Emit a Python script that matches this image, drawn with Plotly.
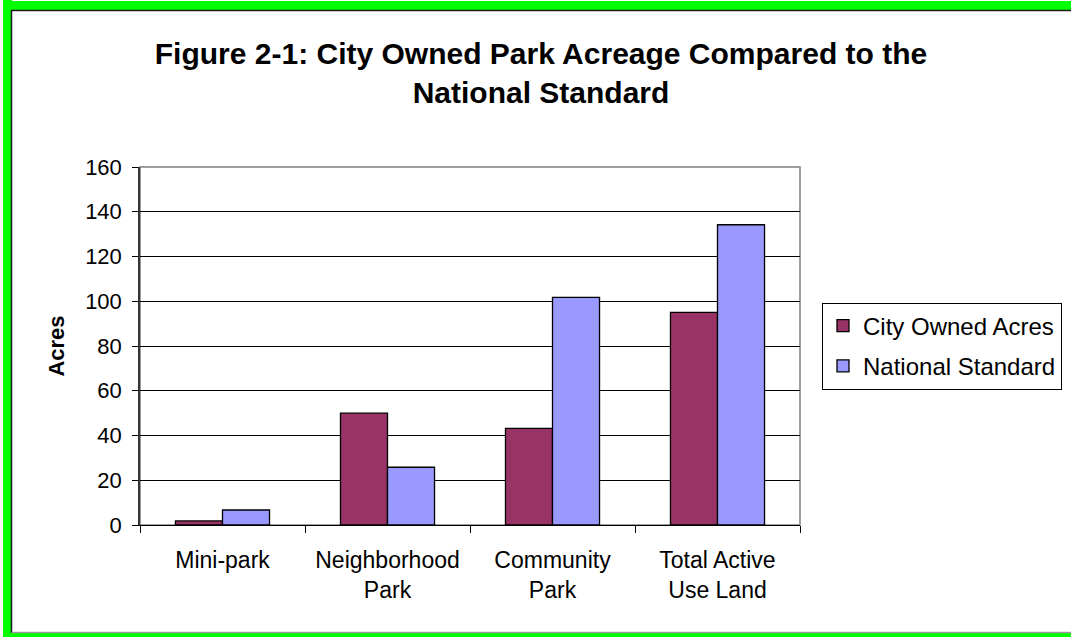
import plotly.graph_objects as go

categories = ["Mini-park", "Neighborhood<br>Park", "Community<br>Park", "Total Active<br>Use Land"]
city_owned = [1.8, 50, 43.2, 95]
national_standard = [6.7, 25.8, 101.7, 134.2]
y_ticks = [0, 20, 40, 60, 80, 100, 120, 140, 160]

W, H = 1071, 637
L, R, T, B = 140, 800, 167, 525

def px_x(p):
    return (p - L) / (R - L)

def px_y(p):
    return (B - p) / (B - T)

FONT = "Arial, Liberation Sans, sans-serif"

fig = go.Figure()
fig.add_trace(go.Bar(x=categories, y=city_owned, name="City Owned Acres",
                     marker=dict(color="#993366", line=dict(color="black", width=1.3)),
                     legendgroup="a"))
fig.add_trace(go.Bar(x=categories, y=national_standard, name="National Standard",
                     marker=dict(color="#9999FF", line=dict(color="black", width=1.3)),
                     legendgroup="b"))

def pline(x0, x1, y0, y1, color, w):
    return dict(type="line", xref="paper", yref="paper", layer="below",
                x0=px_x(x0), x1=px_x(x1), y0=px_y(y0), y1=px_y(y1),
                line=dict(color=color, width=w))

shapes = [
    pline(7.5, 7.5, 0, 637, "#00FF00", 9),
    pline(3, 1080, 5.5, 5.5, "#00FF00", 9),
    pline(3, 1080, 635.5, 635.5, "#00FF00", 5),
    pline(11.5, 11.5, 10, 633, "#1a1a1a", 1.5),
    pline(11.5, 1080, 10.5, 10.5, "#1a1a1a", 1.5),
    pline(11.5, 1080, 632.5, 632.5, "#9a9a9a", 1.5),
    dict(type="rect", xref="paper", yref="paper", layer="below",
         x0=0, x1=1, y0=0, y1=1,
         fillcolor="white", line=dict(color="#808080", width=1.5)),
]

fig.update_layout(
    width=W, height=H,
    margin=dict(l=L, r=W - R, t=T, b=H - B, autoexpand=False),
    paper_bgcolor="white", plot_bgcolor="rgba(0,0,0,0)",
    font=dict(family=FONT, size=22, color="black"),
    title=dict(text="<b>Figure 2-1: City Owned Park Acreage Compared to the<br>National Standard</b>",
               x=541 / W, xanchor="center", xref="container",
               y=1 - 64 / H, yanchor="top", yref="container",
               font=dict(family=FONT, size=30, color="black")),
    barmode="group", bargap=0.43, bargroupgap=0,
    showlegend=True,
    legend=dict(x=px_x(822), xanchor="left", y=0.5, yanchor="middle",
                bordercolor="black", borderwidth=1, bgcolor="white",
                font=dict(family=FONT, size=24, color="black"),
                traceorder="grouped", tracegroupgap=6),
    shapes=shapes,
    xaxis=dict(showline=True, linecolor="black", linewidth=1.3,
               ticks="outside", tickson="boundaries", ticklen=7, tickcolor="black",
               showgrid=False, tickfont=dict(size=23), automargin=False,
               ticklabelstandoff=14),
    yaxis=dict(range=[0, 160], tickvals=y_ticks, showline=True, linecolor="#333333", linewidth=1.5,
               ticks="outside", ticklen=6, tickcolor="black",
               showgrid=True, gridcolor="black", gridwidth=1,
               zeroline=False, tickfont=dict(size=22), automargin=False,
               ticklabelstandoff=6,
               title=dict(text="<b>Acres</b>", font=dict(size=22), standoff=14)),
)

fig.write_html("out.html", config={"displayModeBar": False},
               post_script="document.body.style.margin='0';document.documentElement.style.background='white';document.body.style.overflow='hidden';")
